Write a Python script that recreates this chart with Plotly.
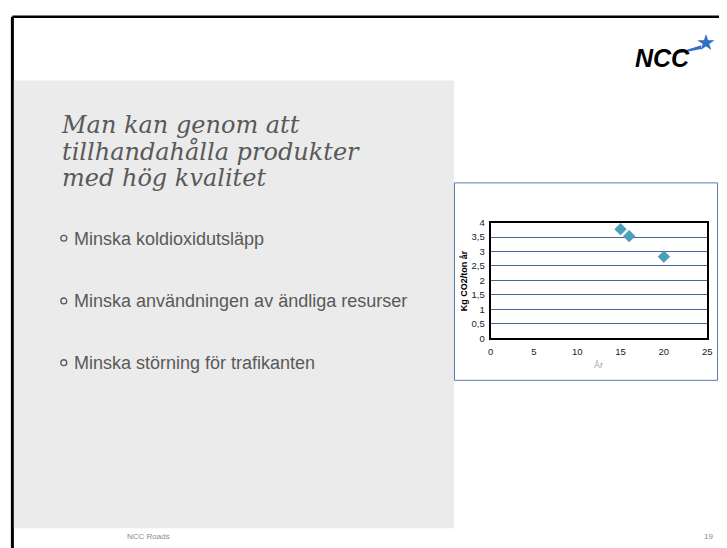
import plotly.graph_objects as go

# ---- data ----
years = [15, 16, 20]
co2_per_ton_year = [3.77, 3.53, 2.82]
x_ticks = [0, 5, 10, 15, 20, 25]
y_ticks = [0, 0.5, 1, 1.5, 2, 2.5, 3, 3.5, 4]
title_lines = ["Man kan genom att", "tillhandahålla produkter", "med hög kvalitet"]
bullets = ["Minska koldioxidutsläpp",
           "Minska användningen av ändliga resurser",
           "Minska störning för trafikanten"]
x_title = "År"
y_title = "Kg CO2/ton år"
footer_left = "NCC Roads"
footer_right = "19"

W, H = 727, 548
def px(x):
    return x / W
def py(y):
    return 1 - y / H

fig = go.Figure()
fig.add_trace(go.Scatter(
    x=years, y=co2_per_ton_year, mode="markers",
    marker=dict(symbol="diamond", size=9, color="#4aa0b8",
                line=dict(color="#3f8fa6", width=0.5)),
    showlegend=False, hoverinfo="x+y"))

shapes = []
# slide frame (top + left borders)
shapes.append(dict(type="line", xref="paper", yref="paper",
                   x0=px(9.5), x1=px(724), y0=py(11), y1=py(11),
                   line=dict(color="black", width=2.5), layer="below"))
shapes.append(dict(type="line", xref="paper", yref="paper",
                   x0=px(9.5), x1=px(9.5), y0=py(11), y1=py(560),
                   line=dict(color="black", width=3), layer="below"))
# gray panel
shapes.append(dict(type="rect", xref="paper", yref="paper",
                   x0=px(11), x1=px(456), y0=py(76), y1=py(533),
                   fillcolor="#ebebeb", line=dict(width=0), layer="below"))
# chart box
shapes.append(dict(type="rect", xref="paper", yref="paper",
                   x0=px(456.5), x1=px(722.5), y0=py(180.5), y1=py(382),
                   fillcolor="white", line=dict(color="#5a78b0", width=1), layer="below"))
# bullet rings
for yc in [237, 301, 364]:
    shapes.append(dict(type="circle", xref="paper", yref="paper",
                       x0=px(58.5), x1=px(64.5), y0=py(yc - 3), y1=py(yc + 3),
                       line=dict(color="#595959", width=1.3), fillcolor="rgba(0,0,0,0)"))
# NCC logo swoosh
sx = [675, 706, 706]
sy = [50, 40, 44]
path = "M {} {} L {} {} L {} {} Z".format(px(sx[0]), py(sy[0]), px(sx[1]), py(sy[1]), px(sx[2]), py(sy[2]))
shapes.append(dict(type="path", xref="paper", yref="paper", path=path,
                   fillcolor="#2f6fc4", line=dict(width=0)))

annotations = []
# title: one text block, line pitch set by the base font size, glyphs enlarged via span
title_text = "<br>".join('<span style="font-size:24px"><i>' + t + "</i></span>" for t in title_lines)
annotations.append(dict(text=title_text, x=px(57), y=py(148), align="left",
                        xref="paper", yref="paper", xanchor="left", yanchor="middle",
                        showarrow=False,
                        font=dict(family="DejaVu Serif", size=20.5, color="#595959")))
# bullets
for b, yc in zip(bullets, [237.5, 301.5, 364.5]):
    annotations.append(dict(text=b, x=px(69.5), y=py(yc), xref="paper", yref="paper",
                            xanchor="left", yanchor="middle", showarrow=False,
                            font=dict(family="Liberation Sans, Arial", size=18, color="#595959")))
# footer
annotations.append(dict(text=footer_left, x=px(147), y=py(541), xref="paper", yref="paper",
                        xanchor="center", yanchor="middle", showarrow=False,
                        font=dict(family="Liberation Sans, Arial", size=8, color="#8c8c8c")))
annotations.append(dict(text=footer_right, x=px(713), y=py(541), xref="paper", yref="paper",
                        xanchor="center", yanchor="middle", showarrow=False,
                        font=dict(family="Liberation Sans, Arial", size=8, color="#8c8c8c")))
# logo
annotations.append(dict(text="<b><i>NCC</i></b>", x=px(667), y=py(53), xref="paper", yref="paper",
                        xanchor="center", yanchor="middle", showarrow=False,
                        font=dict(family="Liberation Sans, Arial", size=25, color="black")))
annotations.append(dict(text="★", x=px(711), y=py(37), xref="paper", yref="paper",
                        xanchor="center", yanchor="middle", showarrow=False,
                        font=dict(family="DejaVu Sans", size=22, color="#2f6fc4")))
# axis titles
annotations.append(dict(text=x_title, x=px(602), y=py(366), xref="paper", yref="paper",
                        xanchor="center", yanchor="middle", showarrow=False,
                        font=dict(family="Liberation Sans, Arial", size=9, color="#a0a0a0")))
annotations.append(dict(text="<b>" + y_title + "</b>", x=px(467), y=py(280), xref="paper", yref="paper",
                        xanchor="center", yanchor="middle", showarrow=False, textangle=-90,
                        font=dict(family="Liberation Sans, Arial", size=9, color="black")))

fig.update_layout(
    width=W, height=H, margin=dict(l=0, r=0, t=0, b=0),
    paper_bgcolor="white", plot_bgcolor="white",
    separators=", ",
    shapes=shapes, annotations=annotations,
    xaxis=dict(domain=[px(493), px(712)], range=[0, 25], tickvals=x_ticks,
               showgrid=False, zeroline=False, showline=True, mirror=True,
               linecolor="black", linewidth=2, ticks="", ticklabelstandoff=3,
               tickfont=dict(family="Liberation Sans, Arial", size=9.5, color="#222")),
    yaxis=dict(domain=[py(339), py(221)], range=[0, 4], tickvals=y_ticks,
               showgrid=True, gridcolor="#4d63a0", gridwidth=1,
               zeroline=False, showline=True, mirror=True,
               linecolor="black", linewidth=2, ticks="", ticklabelstandoff=2,
               tickfont=dict(family="Liberation Sans, Arial", size=9.5, color="#222")),
)

fig.write_html("out.html", config={"displayModeBar": False},
               post_script="document.body.style.margin='0';document.body.style.overflow='hidden';")
